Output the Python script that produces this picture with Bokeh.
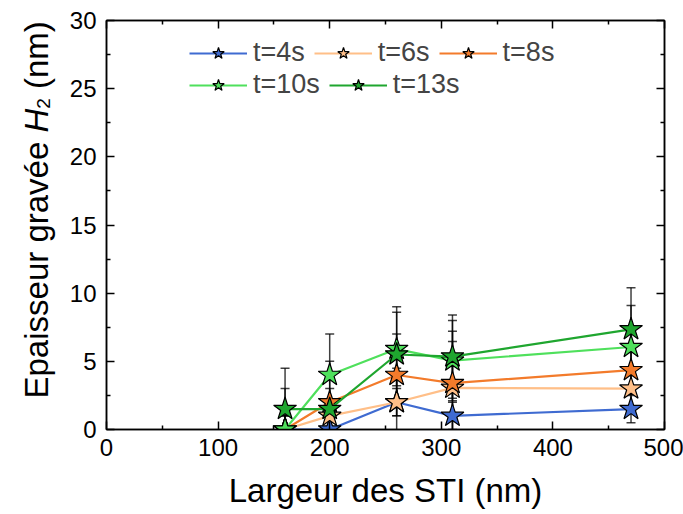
from bokeh.plotting import figure
from bokeh.layouts import row
from bokeh.models import (ColumnDataSource, Whisker, TeeHead, Legend, LegendItem,
                          LinearAxis, Label, Range1d, FixedTicker)
from bokeh.embed import file_html
from bokeh.resources import INLINE

# ---- data ----
widths = [160, 200, 260, 310, 470]
labels = ["t=4s", "t=6s", "t=8s", "t=10s", "t=13s"]
h_t4 = [0.0, 0.0, 2.0, 1.0, 1.5]
h_t6 = [0.0, 1.0, 2.0, 3.05, 3.0]
h_t8 = [0.0, 2.0, 4.0, 3.4, 4.35]
h_t10 = [0.0, 4.0, 5.9, 5.05, 6.05]
h_t13 = [1.5, 1.5, 5.5, 5.35, 7.35]
e_t4 = [1.0, 1.0, 1.0, 1.0, 1.0]
e_t6 = [1.0, 1.0, 2.5, 3.4, 1.5]
e_t8 = [1.0, 3.0, 3.0, 3.8, 1.5]
e_t10 = [3.0, 3.0, 2.7, 2.95, 3.05]
e_t13 = [3.0, 1.5, 3.5, 3.05, 3.05]
colors = ["#3F6BD1", "#FFBF88", "#F37B2B", "#4FE05C", "#1FA62F"]
x_ticks = [0, 100, 200, 300, 400, 500]
x_minor = [50, 150, 250, 350, 450]
y_ticks = [0, 5, 10, 15, 20, 25, 30]
y_minor = [2.5, 7.5, 12.5, 17.5, 22.5, 27.5]

series = [h_t4, h_t6, h_t8, h_t10, h_t13]
errors = [e_t4, e_t6, e_t8, e_t10, e_t13]

FONT = "Liberation Sans"
H = 514
TOP = 20          # frame top (px)
BOT = 429         # frame bottom (px)
LW = 66           # width of the strip holding the y title

# ---------- left strip holding the rotated y-axis title ----------
# its frame is aligned with the main frame; ranges map 1 unit = 1 px
tf = figure(width=LW, height=H, output_backend="svg", toolbar_location=None,
            x_range=Range1d(0, LW), y_range=Range1d(BOT, TOP),
            x_axis_type=None, y_axis_type=None,
            min_border_left=0, min_border_right=0, min_border_top=TOP,
            min_border_bottom=H - BOT)
tf.grid.visible = False
tf.outline_line_color = None

fs = 33
base_x = 36
y_start = 398
# (text, style, size, shift right, leading gap in em)
pieces = [("Epaisseur gravée", "normal", fs, 0, 0.0),
          ("H", "italic", fs, 0, 0.278),
          ("2", "normal", 19, 7, 0.0),
          ("(nm)", "normal", fs, 0, 0.278)]
adv = {"E": 667, "p": 556, "a": 556, "i": 222, "s": 500, "e": 556, "u": 556,
       "r": 333, " ": 278, "g": 556, "v": 500, "é": 556, "H": 722, "2": 556,
       "(": 333, "n": 556, "m": 833, ")": 333}
cum = 0.0
for txt, style, size, shift, gap in pieces:
    cum += gap * fs
    tf.add_layout(Label(x=base_x + shift, y=y_start - cum, text=txt, angle=1.5707963,
                        text_align="left", text_baseline="alphabetic",
                        text_font=FONT, text_font_style=style,
                        text_font_size=f"{size}px", text_color="black"))
    cum += sum(adv[c] for c in txt) / 1000.0 * size

# ---------- main plot ----------
p = figure(width=683 - LW, height=H, output_backend="svg", toolbar_location=None,
           x_range=Range1d(0, 500), y_range=Range1d(0, 30),
           min_border_left=106 - LW, min_border_right=19, min_border_top=TOP,
           min_border_bottom=H - BOT)
p.grid.visible = False
p.outline_line_color = "black"
p.outline_line_width = 1.5

for ax in (p.xaxis[0], p.yaxis[0]):
    ax.axis_line_width = 1.5
    ax.major_tick_in = 8
    ax.major_tick_out = 0
    ax.minor_tick_in = 4
    ax.minor_tick_out = 0
    ax.major_tick_line_width = 1.5
    ax.minor_tick_line_width = 1.5
    ax.major_label_text_font = FONT
    ax.major_label_text_color = "black"
    ax.major_label_text_font_size = "24px"
p.xaxis.ticker = FixedTicker(ticks=x_ticks, minor_ticks=x_minor)
p.yaxis.ticker = FixedTicker(ticks=y_ticks, minor_ticks=y_minor)
p.xaxis.major_label_standoff = 9
p.yaxis.major_label_standoff = 10
p.xaxis.axis_label = "Largeur des STI (nm)"
p.xaxis.axis_label_text_font = FONT
p.xaxis.axis_label_text_font_size = "33px"
p.xaxis.axis_label_text_font_style = "normal"
p.xaxis.axis_label_text_color = "black"
p.xaxis.axis_label_standoff = 13

top = LinearAxis(ticker=FixedTicker(ticks=x_ticks, minor_ticks=x_minor))
right = LinearAxis(ticker=FixedTicker(ticks=y_ticks, minor_ticks=y_minor))
for ax in (top, right):
    ax.major_label_text_color = None
    ax.major_label_text_font_size = "1px"
    ax.major_label_standoff = 0
    ax.major_tick_in = 8
    ax.major_tick_out = 0
    ax.minor_tick_in = 4
    ax.minor_tick_out = 0
    ax.axis_line_width = 1.5
    ax.major_tick_line_width = 1.5
    ax.minor_tick_line_width = 1.5
p.add_layout(top, "above")
p.add_layout(right, "right")

renderers = []
for ys, es, col in zip(series, errors, colors):
    src = ColumnDataSource(dict(x=widths, y=ys,
                                lo=[a - b for a, b in zip(ys, es)],
                                hi=[a + b for a, b in zip(ys, es)]))
    w = Whisker(source=src, base="x", upper="hi", lower="lo",
                line_color="black", line_alpha=0.75, line_width=1.5,
                upper_head=TeeHead(size=9, line_color="black", line_alpha=0.75, line_width=1.5),
                lower_head=TeeHead(size=9, line_color="black", line_alpha=0.75, line_width=1.5))
    p.add_layout(w)
    ln = p.line("x", "y", source=src, line_color=col, line_width=2.2)
    sc = p.scatter("x", "y", source=src, marker="star", size=24,
                   fill_color=col, line_color="black", line_width=1.2)
    renderers.append((ln, sc))

items = [LegendItem(label=lab, renderers=list(r)) for lab, r in zip(labels, renderers)]


def mk_legend(its, loc):
    return Legend(items=its, location=loc, orientation="horizontal",
                  glyph_width=58, glyph_height=30, label_height=30,
                  label_standoff=6, spacing=9, padding=0, margin=0,
                  border_line_alpha=0, background_fill_alpha=0,
                  label_text_font=FONT, label_text_font_size="27px")


p.add_layout(mk_legend(items[:3], (83, 361)))
p.add_layout(mk_legend(items[3:], (83, 329)))

layout = row(tf, p, spacing=0)
open("out.html", "w").write(file_html(layout, INLINE))
